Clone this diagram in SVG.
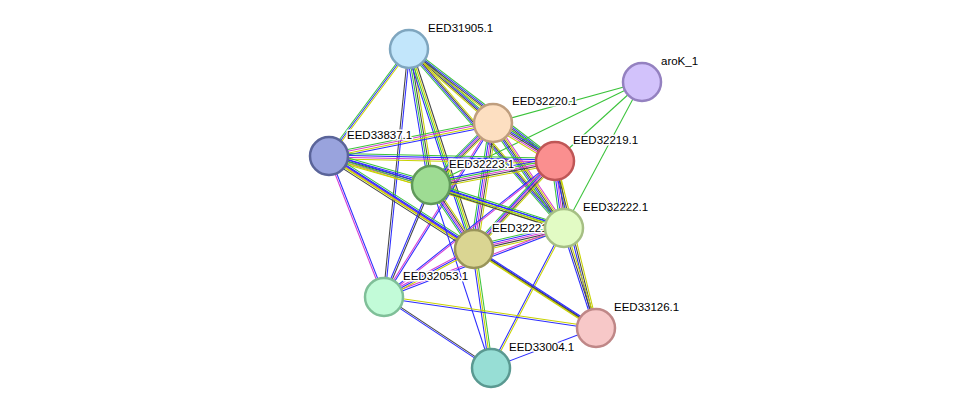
<svg xmlns="http://www.w3.org/2000/svg" width="976" height="414" viewBox="0 0 976 414">
<style>
line{stroke-width:1.05;fill:none}
.g{stroke:#3ac33a}.b{stroke:#2b2bff}.k{stroke:#444}.y{stroke:#c8d200}.m{stroke:#d43ad4}
circle{stroke-width:2.5}
text{font-family:"Liberation Sans",Arial,sans-serif;font-size:11.5px;fill:#000;stroke:#fff;stroke-width:3px;paint-order:stroke;stroke-linejoin:round}
</style>
<rect width="976" height="414" fill="#fff"/>
<g id="edges">
<line class="g" x1="409" y1="49" x2="329" y2="156" transform="translate(-1.8,0)"/>
<line class="b" x1="409" y1="49" x2="329" y2="156"/>
<line class="y" x1="409" y1="49" x2="329" y2="156" transform="translate(1.8,0)"/>
<line class="g" x1="409" y1="49" x2="493" y2="123" transform="translate(0,-2.7)"/>
<line class="b" x1="409" y1="49" x2="493" y2="123" transform="translate(0,-0.9)"/>
<line class="k" x1="409" y1="49" x2="493" y2="123" transform="translate(0,0.9)"/>
<line class="y" x1="409" y1="49" x2="493" y2="123" transform="translate(0,2.7)"/>
<line class="g" x1="409" y1="49" x2="555" y2="161" transform="translate(0,-2.7)"/>
<line class="b" x1="409" y1="49" x2="555" y2="161" transform="translate(0,-0.9)"/>
<line class="k" x1="409" y1="49" x2="555" y2="161" transform="translate(0,0.9)"/>
<line class="y" x1="409" y1="49" x2="555" y2="161" transform="translate(0,2.7)"/>
<line class="b" x1="409" y1="49" x2="431" y2="185" transform="translate(-2.7,0)"/>
<line class="g" x1="409" y1="49" x2="431" y2="185" transform="translate(-0.9,0)"/>
<line class="k" x1="409" y1="49" x2="431" y2="185" transform="translate(0.9,0)"/>
<line class="y" x1="409" y1="49" x2="431" y2="185" transform="translate(2.7,0)"/>
<line class="b" x1="409" y1="49" x2="474" y2="249" transform="translate(-2.7,0)"/>
<line class="g" x1="409" y1="49" x2="474" y2="249" transform="translate(-0.9,0)"/>
<line class="y" x1="409" y1="49" x2="474" y2="249" transform="translate(0.9,0)"/>
<line class="k" x1="409" y1="49" x2="474" y2="249" transform="translate(2.7,0)"/>
<line class="g" x1="409" y1="49" x2="564" y2="228" transform="translate(-2.7,0)"/>
<line class="b" x1="409" y1="49" x2="564" y2="228" transform="translate(-0.9,0)"/>
<line class="k" x1="409" y1="49" x2="564" y2="228" transform="translate(0.9,0)"/>
<line class="y" x1="409" y1="49" x2="564" y2="228" transform="translate(2.7,0)"/>
<line class="k" x1="409" y1="49" x2="384" y2="297" transform="translate(-0.9,0)"/>
<line class="b" x1="409" y1="49" x2="384" y2="297" transform="translate(0.9,0)"/>
<line class="g" x1="642" y1="82" x2="493" y2="123"/>
<line class="g" x1="642" y1="82" x2="431" y2="185"/>
<line class="g" x1="642" y1="82" x2="555" y2="161"/>
<line class="g" x1="642" y1="82" x2="564" y2="228"/>
<line class="g" x1="493" y1="123" x2="329" y2="156" transform="translate(0,-2.7)"/>
<line class="m" x1="493" y1="123" x2="329" y2="156" transform="translate(0,-0.9)"/>
<line class="y" x1="493" y1="123" x2="329" y2="156" transform="translate(0,0.9)"/>
<line class="b" x1="493" y1="123" x2="329" y2="156" transform="translate(0,2.7)"/>
<line class="g" x1="493" y1="123" x2="431" y2="185" transform="translate(-3.6,0)"/>
<line class="b" x1="493" y1="123" x2="431" y2="185" transform="translate(-1.8,0)"/>
<line class="m" x1="493" y1="123" x2="431" y2="185"/>
<line class="k" x1="493" y1="123" x2="431" y2="185" transform="translate(1.8,0)"/>
<line class="y" x1="493" y1="123" x2="431" y2="185" transform="translate(3.6,0)"/>
<line class="g" x1="493" y1="123" x2="555" y2="161" transform="translate(0,-3.6)"/>
<line class="b" x1="493" y1="123" x2="555" y2="161" transform="translate(0,-1.8)"/>
<line class="k" x1="493" y1="123" x2="555" y2="161"/>
<line class="m" x1="493" y1="123" x2="555" y2="161" transform="translate(0,1.8)"/>
<line class="y" x1="493" y1="123" x2="555" y2="161" transform="translate(0,3.6)"/>
<line class="g" x1="493" y1="123" x2="474" y2="249" transform="translate(-3.6,0)"/>
<line class="b" x1="493" y1="123" x2="474" y2="249" transform="translate(-1.8,0)"/>
<line class="m" x1="493" y1="123" x2="474" y2="249"/>
<line class="k" x1="493" y1="123" x2="474" y2="249" transform="translate(1.8,0)"/>
<line class="y" x1="493" y1="123" x2="474" y2="249" transform="translate(3.6,0)"/>
<line class="g" x1="493" y1="123" x2="564" y2="228" transform="translate(-3.6,0)"/>
<line class="b" x1="493" y1="123" x2="564" y2="228" transform="translate(-1.8,0)"/>
<line class="k" x1="493" y1="123" x2="564" y2="228"/>
<line class="y" x1="493" y1="123" x2="564" y2="228" transform="translate(1.8,0)"/>
<line class="m" x1="493" y1="123" x2="564" y2="228" transform="translate(3.6,0)"/>
<line class="m" x1="493" y1="123" x2="384" y2="297" transform="translate(-0.9,0)"/>
<line class="b" x1="493" y1="123" x2="384" y2="297" transform="translate(0.9,0)"/>
<line class="g" x1="555" y1="161" x2="329" y2="156" transform="translate(0,-2.7)"/>
<line class="b" x1="555" y1="161" x2="329" y2="156" transform="translate(0,-0.9)"/>
<line class="m" x1="555" y1="161" x2="329" y2="156" transform="translate(0,0.9)"/>
<line class="y" x1="555" y1="161" x2="329" y2="156" transform="translate(0,2.7)"/>
<line class="b" x1="555" y1="161" x2="431" y2="185" transform="translate(0,-3.6)"/>
<line class="g" x1="555" y1="161" x2="431" y2="185" transform="translate(0,-1.8)"/>
<line class="m" x1="555" y1="161" x2="431" y2="185"/>
<line class="k" x1="555" y1="161" x2="431" y2="185" transform="translate(0,1.8)"/>
<line class="y" x1="555" y1="161" x2="431" y2="185" transform="translate(0,3.6)"/>
<line class="g" x1="555" y1="161" x2="564" y2="228" transform="translate(-3.6,0)"/>
<line class="b" x1="555" y1="161" x2="564" y2="228" transform="translate(-1.8,0)"/>
<line class="m" x1="555" y1="161" x2="564" y2="228"/>
<line class="k" x1="555" y1="161" x2="564" y2="228" transform="translate(1.8,0)"/>
<line class="y" x1="555" y1="161" x2="564" y2="228" transform="translate(3.6,0)"/>
<line class="g" x1="555" y1="161" x2="474" y2="249" transform="translate(-3.6,0)"/>
<line class="b" x1="555" y1="161" x2="474" y2="249" transform="translate(-1.8,0)"/>
<line class="m" x1="555" y1="161" x2="474" y2="249"/>
<line class="k" x1="555" y1="161" x2="474" y2="249" transform="translate(1.8,0)"/>
<line class="y" x1="555" y1="161" x2="474" y2="249" transform="translate(3.6,0)"/>
<line class="b" x1="555" y1="161" x2="384" y2="297" transform="translate(0,-0.9)"/>
<line class="m" x1="555" y1="161" x2="384" y2="297" transform="translate(0,0.9)"/>
<line class="b" x1="555" y1="161" x2="596" y2="328" transform="translate(-1.8,0)"/>
<line class="k" x1="555" y1="161" x2="596" y2="328"/>
<line class="y" x1="555" y1="161" x2="596" y2="328" transform="translate(1.8,0)"/>
<line class="g" x1="329" y1="156" x2="431" y2="185" transform="translate(0,-3.6)"/>
<line class="b" x1="329" y1="156" x2="431" y2="185" transform="translate(0,-1.8)"/>
<line class="k" x1="329" y1="156" x2="431" y2="185"/>
<line class="m" x1="329" y1="156" x2="431" y2="185" transform="translate(0,1.8)"/>
<line class="y" x1="329" y1="156" x2="431" y2="185" transform="translate(0,3.6)"/>
<line class="b" x1="329" y1="156" x2="564" y2="228" transform="translate(0,-1.8)"/>
<line class="g" x1="329" y1="156" x2="564" y2="228"/>
<line class="y" x1="329" y1="156" x2="564" y2="228" transform="translate(0,1.8)"/>
<line class="g" x1="329" y1="156" x2="474" y2="249" transform="translate(0,-3.6)"/>
<line class="b" x1="329" y1="156" x2="474" y2="249" transform="translate(0,-1.8)"/>
<line class="m" x1="329" y1="156" x2="474" y2="249"/>
<line class="y" x1="329" y1="156" x2="474" y2="249" transform="translate(0,1.8)"/>
<line class="k" x1="329" y1="156" x2="474" y2="249" transform="translate(0,3.6)"/>
<line class="m" x1="329" y1="156" x2="384" y2="297" transform="translate(-0.9,0)"/>
<line class="b" x1="329" y1="156" x2="384" y2="297" transform="translate(0.9,0)"/>
<line class="b" x1="329" y1="156" x2="596" y2="328" transform="translate(0,-0.9)"/>
<line class="y" x1="329" y1="156" x2="596" y2="328" transform="translate(0,0.9)"/>
<line class="g" x1="431" y1="185" x2="564" y2="228" transform="translate(0,-2.7)"/>
<line class="b" x1="431" y1="185" x2="564" y2="228" transform="translate(0,-0.9)"/>
<line class="y" x1="431" y1="185" x2="564" y2="228" transform="translate(0,0.9)"/>
<line class="k" x1="431" y1="185" x2="564" y2="228" transform="translate(0,2.7)"/>
<line class="g" x1="431" y1="185" x2="474" y2="249" transform="translate(-3.6,0)"/>
<line class="b" x1="431" y1="185" x2="474" y2="249" transform="translate(-1.8,0)"/>
<line class="m" x1="431" y1="185" x2="474" y2="249"/>
<line class="k" x1="431" y1="185" x2="474" y2="249" transform="translate(1.8,0)"/>
<line class="y" x1="431" y1="185" x2="474" y2="249" transform="translate(3.6,0)"/>
<line class="b" x1="431" y1="185" x2="384" y2="297" transform="translate(-0.9,0)"/>
<line class="k" x1="431" y1="185" x2="384" y2="297" transform="translate(0.9,0)"/>
<line class="b" x1="431" y1="185" x2="491" y2="368"/>
<line class="g" x1="564" y1="228" x2="474" y2="249" transform="translate(0,-3.6)"/>
<line class="b" x1="564" y1="228" x2="474" y2="249" transform="translate(0,-1.8)"/>
<line class="m" x1="564" y1="228" x2="474" y2="249"/>
<line class="k" x1="564" y1="228" x2="474" y2="249" transform="translate(0,1.8)"/>
<line class="y" x1="564" y1="228" x2="474" y2="249" transform="translate(0,3.6)"/>
<line class="m" x1="564" y1="228" x2="384" y2="297" transform="translate(0,-0.9)"/>
<line class="b" x1="564" y1="228" x2="384" y2="297" transform="translate(0,0.9)"/>
<line class="b" x1="564" y1="228" x2="596" y2="328" transform="translate(-1.8,0)"/>
<line class="k" x1="564" y1="228" x2="596" y2="328"/>
<line class="y" x1="564" y1="228" x2="596" y2="328" transform="translate(1.8,0)"/>
<line class="b" x1="564" y1="228" x2="491" y2="368" transform="translate(-0.9,0)"/>
<line class="y" x1="564" y1="228" x2="491" y2="368" transform="translate(0.9,0)"/>
<line class="m" x1="474" y1="249" x2="384" y2="297" transform="translate(0,-1.8)"/>
<line class="b" x1="474" y1="249" x2="384" y2="297"/>
<line class="y" x1="474" y1="249" x2="384" y2="297" transform="translate(0,1.8)"/>
<line class="b" x1="474" y1="249" x2="491" y2="368" transform="translate(-1.8,0)"/>
<line class="y" x1="474" y1="249" x2="491" y2="368"/>
<line class="g" x1="474" y1="249" x2="491" y2="368" transform="translate(1.8,0)"/>
<line class="b" x1="474" y1="249" x2="596" y2="328" transform="translate(0,-1.8)"/>
<line class="k" x1="474" y1="249" x2="596" y2="328"/>
<line class="y" x1="474" y1="249" x2="596" y2="328" transform="translate(0,1.8)"/>
<line class="y" x1="384" y1="297" x2="596" y2="328" transform="translate(0,-0.9)"/>
<line class="b" x1="384" y1="297" x2="596" y2="328" transform="translate(0,0.9)"/>
<line class="k" x1="384" y1="297" x2="491" y2="368" transform="translate(0,-0.9)"/>
<line class="b" x1="384" y1="297" x2="491" y2="368" transform="translate(0,0.9)"/>
<line class="b" x1="491" y1="368" x2="596" y2="328"/>
</g>
<g id="EED31905.1"><circle cx="409" cy="49" r="19" fill="#c2e6fb" stroke="#7fa6bf"/><text x="428" y="32">EED31905.1</text></g>
<g id="aroK_1"><circle cx="642" cy="82" r="19" fill="#d2c2fb" stroke="#9481c0"/><text x="661" y="65">aroK_1</text></g>
<g id="EED32220.1"><circle cx="493" cy="123" r="19" fill="#fddfc1" stroke="#bf9e7e"/><text x="512" y="105">EED32220.1</text></g>
<g id="EED32219.1"><circle cx="555" cy="161" r="19" fill="#fa8f8f" stroke="#bf5656"/><text x="573" y="144">EED32219.1</text></g>
<g id="EED33837.1"><circle cx="329" cy="156" r="19" fill="#99a3dd" stroke="#5a6499"/><text x="347" y="139">EED33837.1</text></g>
<g id="EED32223.1"><circle cx="431" cy="185" r="19" fill="#9edc93" stroke="#60995a"/><text x="449" y="168">EED32223.1</text></g>
<g id="EED32053.1"><circle cx="384" cy="297" r="19" fill="#c2fbd8" stroke="#7fbf98"/><text x="403" y="280">EED32053.1</text></g>
<g id="EED33004.1"><circle cx="491" cy="368" r="19" fill="#97ded5" stroke="#5a9991"/><text x="509" y="351">EED33004.1</text></g>
<g id="EED33126.1"><circle cx="596" cy="328" r="19" fill="#f7c8c8" stroke="#bf8787"/><text x="614" y="311">EED33126.1</text></g>
<g id="EED32221.1"><circle cx="474" cy="249" r="19" fill="#dad592" stroke="#99945a"/><text x="492" y="232">EED32221.1</text></g>
<g id="EED32222.1"><circle cx="564" cy="228" r="19" fill="#e2fbc4" stroke="#a6bf84"/><text x="583" y="211">EED32222.1</text></g>
</svg>
